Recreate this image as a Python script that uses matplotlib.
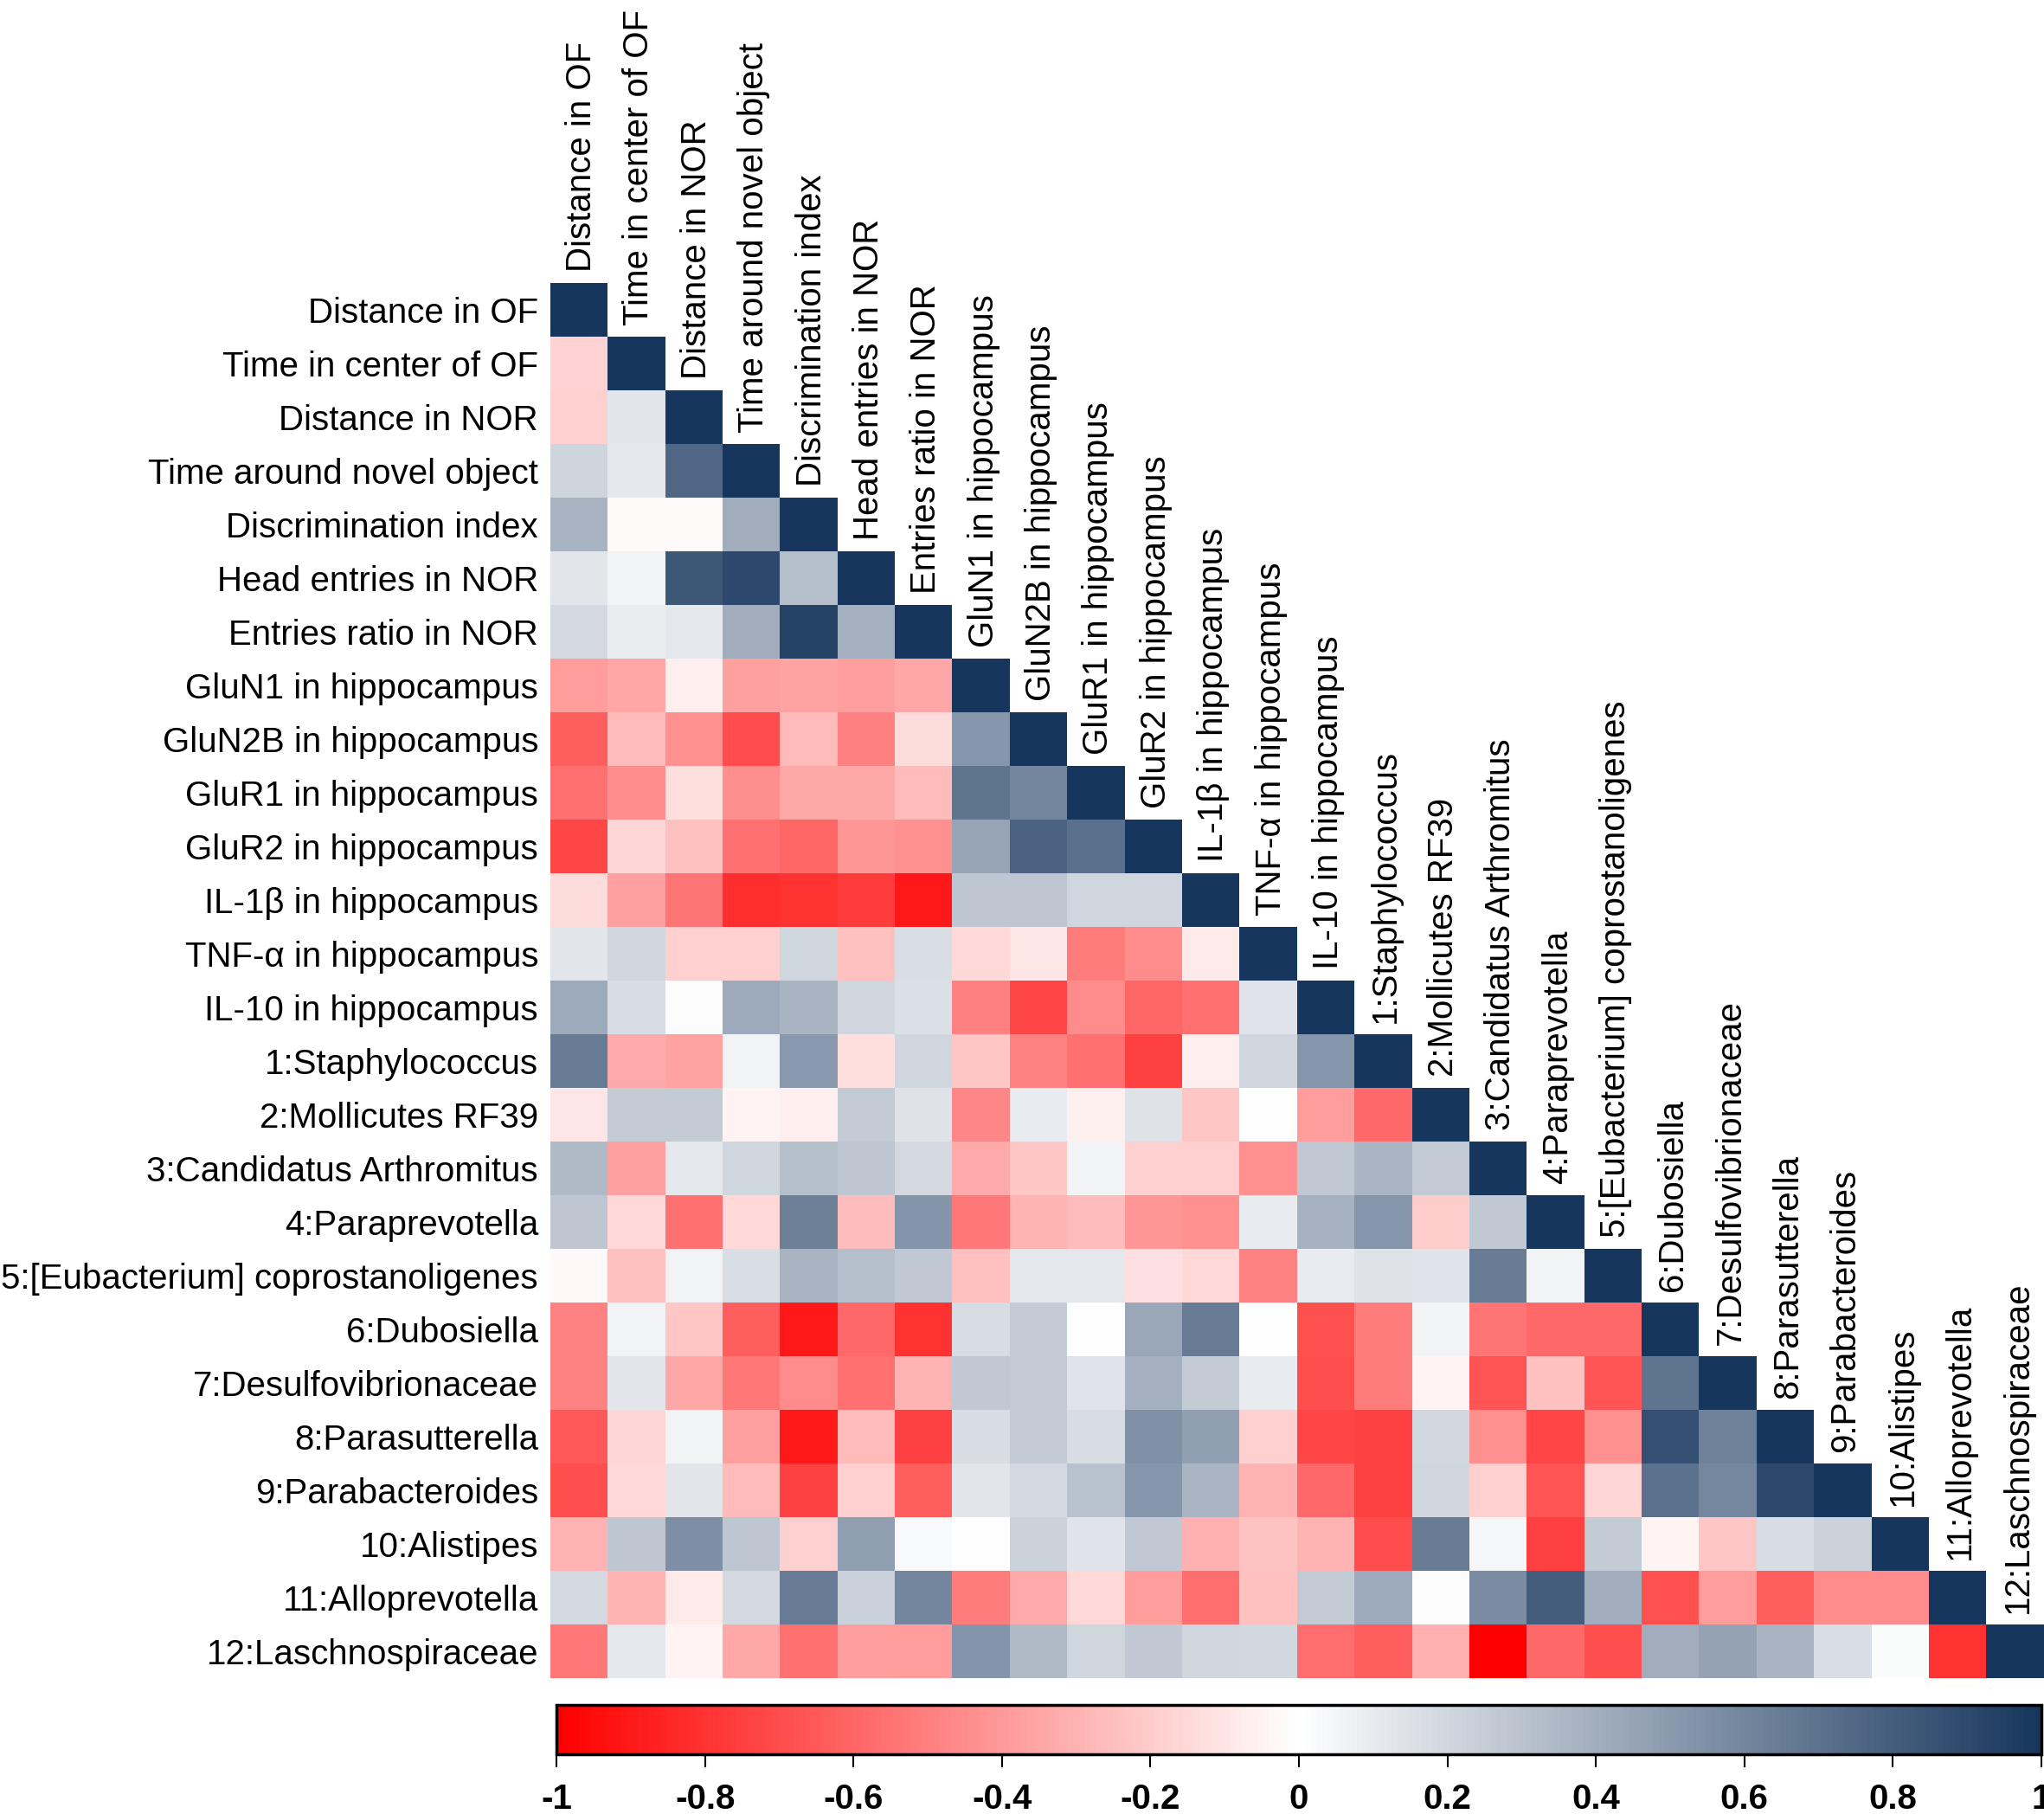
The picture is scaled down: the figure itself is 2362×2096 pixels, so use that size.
import numpy as np
import matplotlib
import matplotlib.pyplot as plt
from matplotlib.colors import LinearSegmentedColormap

matplotlib.use("Agg")

labels = [
    "Distance in OF", "Time in center of OF", "Distance in NOR",
    "Time around novel object", "Discrimination index", "Head entries in NOR",
    "Entries ratio in NOR", "GluN1 in hippocampus", "GluN2B in hippocampus",
    "GluR1 in hippocampus", "GluR2 in hippocampus", "IL-1\u03b2 in hippocampus",
    "TNF-\u03b1 in hippocampus", "IL-10 in hippocampus", "1:Staphylococcus",
    "2:Mollicutes RF39", "3:Candidatus Arthromitus", "4:Paraprevotella",
    "5:[Eubacterium] coprostanoligenes", "6:Dubosiella", "7:Desulfovibrionaceae",
    "8:Parasutterella", "9:Parabacteroides", "10:Alistipes",
    "11:Alloprevotella", "12:Laschnospiraceae",
]

# lower triangle, one list per row (values left of the diagonal)
dist_of = []
time_center = [-0.17]
dist_nor = [-0.18, 0.12]
time_novel = [0.21, 0.11, 0.75]
discrim = [0.37, -0.02, -0.02, 0.40]
head_entries = [0.12, 0.06, 0.83, 0.90, 0.32]
entries_ratio = [0.18, 0.09, 0.11, 0.40, 0.93, 0.39]
glun1 = [-0.39, -0.35, -0.07, -0.37, -0.36, -0.38, -0.35]
glun2b = [-0.63, -0.27, -0.43, -0.70, -0.27, -0.50, -0.14, 0.52]
glur1 = [-0.56, -0.45, -0.13, -0.44, -0.34, -0.34, -0.27, 0.68, 0.60]
glur2 = [-0.72, -0.16, -0.25, -0.55, -0.60, -0.41, -0.43, 0.45, 0.77, 0.71]
il1b = [-0.14, -0.37, -0.54, -0.82, -0.80, -0.76, -0.90, 0.28, 0.28, 0.20, 0.20]
tnfa = [0.12, 0.20, -0.18, -0.18, 0.20, -0.25, 0.16, -0.15, -0.10, -0.51,
        -0.45, -0.08]
il10 = [0.42, 0.17, 0.01, 0.42, 0.37, 0.20, 0.15, -0.50, -0.72, -0.45,
        -0.60, -0.55, 0.13]
staph = [0.65, -0.33, -0.36, 0.06, 0.50, -0.13, 0.20, -0.22, -0.49, -0.55,
         -0.75, -0.07, 0.20, 0.52]
mollicutes = [-0.10, 0.25, 0.25, -0.05, -0.07, 0.26, 0.14, -0.47, 0.10, -0.06,
              0.14, -0.22, 0.00, -0.39, -0.59]
candidatus = [0.34, -0.37, 0.11, 0.20, 0.32, 0.28, 0.18, -0.33, -0.22, 0.06,
              -0.18, -0.18, -0.43, 0.27, 0.36, 0.26]
paraprevotella = [0.28, -0.15, -0.56, -0.15, 0.63, -0.26, 0.53, -0.53, -0.29,
                  -0.26, -0.41, -0.43, 0.10, 0.38, 0.52, -0.20, 0.27]
eubacterium = [-0.03, -0.25, 0.06, 0.16, 0.37, 0.32, 0.27, -0.25, 0.11, 0.11,
               -0.12, -0.15, -0.49, 0.10, 0.14, 0.13, 0.65, 0.06]
dubosiella = [-0.49, 0.06, -0.22, -0.63, -0.90, -0.59, -0.80, 0.17, 0.25, 0.00,
              0.43, 0.65, 0.00, -0.68, -0.51, 0.05, -0.54, -0.59, -0.59]
desulfo = [-0.49, 0.12, -0.35, -0.53, -0.45, -0.56, -0.29, 0.27, 0.26, 0.13,
           0.39, 0.25, 0.10, -0.69, -0.51, -0.04, -0.67, -0.25, -0.67, 0.68]
parasutterella = [-0.65, -0.16, 0.06, -0.37, -0.90, -0.27, -0.75, 0.17, 0.26,
                  0.17, 0.54, 0.47, -0.18, -0.72, -0.75, 0.19, -0.43, -0.72,
                  -0.43, 0.87, 0.62]
parabacteroides = [-0.69, -0.15, 0.12, -0.27, -0.75, -0.18, -0.63, 0.12, 0.18,
                   0.30, 0.52, 0.36, -0.30, -0.59, -0.75, 0.20, -0.18, -0.67,
                   -0.16, 0.70, 0.59, 0.90]
alistipes = [-0.29, 0.28, 0.55, 0.28, -0.18, 0.48, 0.03, 0.00, 0.22, 0.13,
             0.27, -0.31, -0.24, -0.29, -0.70, 0.65, 0.04, -0.75, 0.25, -0.04,
             -0.22, 0.17, 0.22]
alloprevotella = [0.18, -0.29, -0.08, 0.18, 0.65, 0.23, 0.60, -0.51, -0.33,
                  -0.15, -0.39, -0.57, -0.25, 0.26, 0.42, 0.01, 0.57, 0.80,
                  0.40, -0.68, -0.39, -0.63, -0.45, -0.45]
laschno = [-0.53, 0.11, -0.04, -0.34, -0.55, -0.38, -0.39, 0.53, 0.34, 0.20,
           0.27, 0.20, 0.19, -0.57, -0.63, -0.31, -1.00, -0.59, -0.69, 0.40,
           0.46, 0.37, 0.16, 0.02, -0.80]

rows = [dist_of, time_center, dist_nor, time_novel, discrim, head_entries,
        entries_ratio, glun1, glun2b, glur1, glur2, il1b, tnfa, il10, staph,
        mollicutes, candidatus, paraprevotella, eubacterium, dubosiella,
        desulfo, parasutterella, parabacteroides, alistipes, alloprevotella,
        laschno]

n = len(labels)
M = np.full((n, n), np.nan)
for i, vals in enumerate(rows):
    M[i, :i] = vals
    M[i, i] = 1.0
M = np.ma.masked_invalid(M)

cmap = LinearSegmentedColormap.from_list("rwn", ["#FF0000", "#FFFFFF", "#17365D"])

plt.rcParams["font.family"] = ["Liberation Sans", "DejaVu Sans"]

W, H = 2362, 2096
fig = plt.figure(figsize=(W / 100, H / 100), dpi=100)

# heatmap box in pixels
x0, x1, y0, y1 = 636, 2362, 327, 1939
ax = fig.add_axes([x0 / W, 1 - y1 / H, (x1 - x0) / W, (y1 - y0) / H])
im = ax.imshow(M, cmap=cmap, vmin=-1, vmax=1, aspect="auto",
               interpolation="nearest")

ax.set_xticks([])
ax.set_yticks(range(n))
ax.set_yticklabels(labels, fontsize=29)
ax.tick_params(axis="y", length=0, pad=10)
for s in ax.spines.values():
    s.set_visible(False)

for j, lab in enumerate(labels):
    ax.annotate(lab, xy=(j, j - 0.5), xytext=(2, 9), textcoords="offset points",
                rotation=90, ha="center", va="bottom", fontsize=29,
                annotation_clip=False)

# colorbar
cax = fig.add_axes([643 / W, 1 - 2027 / H, (2359 - 643) / W, 57 / H])
cb = fig.colorbar(im, cax=cax, orientation="horizontal")
ticks = np.round(np.linspace(-1, 1, 11), 1)
cb.set_ticks(ticks)
cb.set_ticklabels(["%g" % t for t in ticks])
cb.outline.set_linewidth(2.5)
cax.tick_params(length=11, width=1.5, pad=13, labelsize=29)
for t in cax.get_xticklabels():
    t.set_fontweight("bold")

fig.savefig("out.png", dpi=100)
